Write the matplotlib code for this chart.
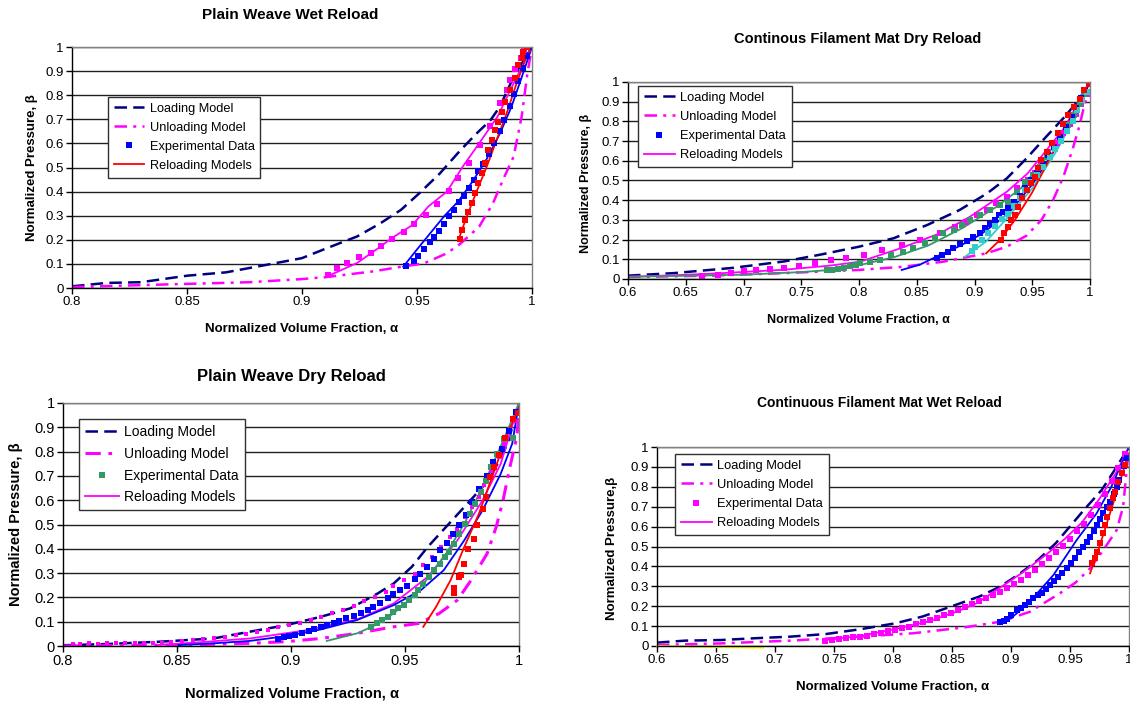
import matplotlib
matplotlib.use("Agg")
import matplotlib.pyplot as plt
from matplotlib.lines import Line2D
from matplotlib.ticker import MultipleLocator, FuncFormatter

plt.rcParams['font.family'] = ['Liberation Sans', 'DejaVu Sans']

W, H = 1130, 704

NAVY = '#000080'
MAG = '#FF00FF'
BLUE = '#0000FF'
RED = '#FF0000'
GREEN = '#339966'
CYAN = '#33CCCC'
YELLOW = '#FFFF00'

LABELS = ['Loading Model', 'Unloading Model', 'Experimental Data', 'Reloading Models']

# ---------------- Plain Weave Wet Reload ----------------
pww_load_x = [0.80, 0.815, 0.83, 0.85, 0.867, 0.889, 0.90, 0.911, 0.924, 0.934, 0.943, 0.951, 0.96, 0.969, 0.976, 0.982, 0.986, 0.992, 1.0]
pww_load_y = [0.007, 0.021, 0.024, 0.051, 0.065, 0.104, 0.124, 0.166, 0.214, 0.268, 0.324, 0.393, 0.476, 0.573, 0.642, 0.697, 0.752, 0.876, 1.0]
pww_unload_x = [0.80, 0.838, 0.877, 0.90, 0.911, 0.931, 0.943, 0.953, 0.963, 0.969, 0.977, 0.983, 0.988, 0.992, 0.9955, 0.998, 1.0]
pww_unload_y = [0.004, 0.014, 0.024, 0.037, 0.046, 0.069, 0.088, 0.102, 0.144, 0.185, 0.254, 0.351, 0.462, 0.545, 0.711, 0.891, 1.0]
pww_mag_x = [0.9114, 0.915, 0.9197, 0.9247, 0.9298, 0.9345, 0.9392, 0.9443, 0.9488, 0.954, 0.9586, 0.9638, 0.968, 0.9727, 0.9774, 0.9816, 0.9863, 0.9891, 0.9906, 0.9927, 0.995, 0.9964, 0.9973]
pww_mag_y = [0.055, 0.083, 0.104, 0.127, 0.145, 0.173, 0.203, 0.231, 0.267, 0.304, 0.35, 0.401, 0.456, 0.519, 0.593, 0.674, 0.768, 0.823, 0.864, 0.909, 0.954, 0.989, 1.0]
pww_blue_x = [0.9454, 0.9485, 0.9504, 0.9532, 0.9555, 0.9576, 0.9597, 0.9618, 0.9641, 0.966, 0.9683, 0.9704, 0.9727, 0.9747, 0.9766, 0.9789, 0.9813, 0.9836, 0.986, 0.9878, 0.9903, 0.9922, 0.9941, 0.9961, 0.9977, 0.9997]
pww_blue_y = [0.09, 0.113, 0.131, 0.162, 0.189, 0.212, 0.235, 0.267, 0.297, 0.322, 0.355, 0.38, 0.414, 0.45, 0.484, 0.515, 0.557, 0.602, 0.65, 0.698, 0.754, 0.806, 0.858, 0.913, 0.961, 1.0]
pww_red_x = [0.9687, 0.9694, 0.9709, 0.9723, 0.9738, 0.9752, 0.9767, 0.9781, 0.9796, 0.981, 0.9825, 0.9839, 0.9854, 0.9868, 0.9883, 0.9904, 0.9926, 0.9941, 0.9955, 0.9962, 0.9977]
pww_red_y = [0.202, 0.241, 0.282, 0.317, 0.351, 0.393, 0.434, 0.478, 0.517, 0.573, 0.614, 0.656, 0.69, 0.732, 0.773, 0.822, 0.87, 0.925, 0.953, 0.981, 0.999]
pww_rl_mag_x = [0.910, 0.924, 0.934, 0.939, 0.948, 0.955, 0.963, 0.970, 0.977, 0.985, 0.992, 1.0]
pww_rl_mag_y = [0.044, 0.104, 0.171, 0.207, 0.261, 0.339, 0.40, 0.505, 0.60, 0.711, 0.849, 1.0]
pww_rl_blue_x = [0.944, 0.950, 0.956, 0.962, 0.968, 0.974, 0.980, 0.986, 0.991, 0.995, 1.0]
pww_rl_blue_y = [0.088, 0.16, 0.23, 0.30, 0.36, 0.44, 0.53, 0.64, 0.75, 0.86, 1.0]
pww_rl_red_x = [0.968, 0.9716, 0.9759, 0.9803, 0.9846, 0.989, 0.9933, 0.997, 1.0]
pww_rl_red_y = [0.199, 0.296, 0.40, 0.503, 0.614, 0.725, 0.849, 0.946, 1.0]

# ---------------- Continous Filament Mat Dry Reload ----------------
cfd_load_x = [0.60, 0.64, 0.69, 0.735, 0.766, 0.80, 0.83, 0.859, 0.887, 0.911, 0.928, 0.945, 0.962, 0.978, 0.99, 1.0]
cfd_load_y = [0.017, 0.030, 0.056, 0.089, 0.123, 0.164, 0.207, 0.274, 0.350, 0.435, 0.511, 0.612, 0.722, 0.823, 0.907, 1.0]
cfd_unload_x = [0.60, 0.673, 0.735, 0.80, 0.838, 0.873, 0.91, 0.928, 0.945, 0.958, 0.968, 0.977, 0.985, 0.991, 0.995, 0.998]
cfd_unload_y = [0.010, 0.017, 0.030, 0.046, 0.062, 0.088, 0.130, 0.164, 0.22, 0.30, 0.40, 0.52, 0.66, 0.78, 0.88, 0.93]
cfd_mag_x = [0.664, 0.678, 0.689, 0.700, 0.711, 0.723, 0.735, 0.748, 0.762, 0.776, 0.789, 0.804, 0.820, 0.837, 0.853, 0.870, 0.883, 0.893, 0.902, 0.911, 0.919, 0.928, 0.937, 0.946, 0.952, 0.958, 0.964, 0.971, 0.977, 0.983, 0.988, 0.992, 0.997]
cfd_mag_y = [0.017, 0.022, 0.030, 0.039, 0.047, 0.051, 0.056, 0.067, 0.081, 0.094, 0.106, 0.122, 0.147, 0.173, 0.198, 0.232, 0.265, 0.291, 0.325, 0.350, 0.384, 0.418, 0.46, 0.503, 0.536, 0.587, 0.637, 0.688, 0.739, 0.789, 0.840, 0.890, 0.941]
cfd_green_x = [0.772, 0.777, 0.782, 0.787, 0.792, 0.797, 0.801, 0.8095, 0.818, 0.828, 0.838, 0.847, 0.857, 0.866, 0.873, 0.882, 0.889, 0.896, 0.905, 0.913, 0.922, 0.929, 0.937, 0.944, 0.951, 0.957, 0.963, 0.969, 0.975, 0.981, 0.986, 0.991, 0.995, 0.999]
cfd_green_y = [0.044, 0.048, 0.053, 0.058, 0.065, 0.072, 0.083, 0.088, 0.096, 0.122, 0.139, 0.156, 0.181, 0.207, 0.232, 0.249, 0.274, 0.299, 0.325, 0.350, 0.376, 0.393, 0.44, 0.49, 0.53, 0.57, 0.62, 0.67, 0.72, 0.78, 0.83, 0.89, 0.94, 0.99]
cfd_blue_x = [0.8673, 0.8716, 0.8773, 0.8816, 0.8874, 0.8932, 0.899, 0.9048, 0.9091, 0.9134, 0.9177, 0.9215, 0.9249, 0.9293, 0.934, 0.939, 0.944, 0.949, 0.954, 0.959, 0.964, 0.969, 0.974, 0.979, 0.984, 0.988, 0.992, 0.996]
cfd_blue_y = [0.105, 0.122, 0.139, 0.156, 0.178, 0.195, 0.215, 0.235, 0.257, 0.279, 0.299, 0.325, 0.342, 0.359, 0.39, 0.42, 0.46, 0.50, 0.54, 0.58, 0.63, 0.67, 0.72, 0.77, 0.82, 0.87, 0.92, 0.96]
cfd_cyan_x = [0.8975, 0.9004, 0.9062, 0.912, 0.9177, 0.9235, 0.9293, 0.934, 0.939, 0.944, 0.949, 0.954, 0.959, 0.965, 0.970, 0.975, 0.980, 0.985, 0.989, 0.993, 0.997]
cfd_cyan_y = [0.14, 0.164, 0.198, 0.232, 0.269, 0.303, 0.330, 0.37, 0.41, 0.45, 0.49, 0.53, 0.57, 0.62, 0.66, 0.70, 0.75, 0.80, 0.86, 0.91, 0.95]
cfd_red_x = [0.9226, 0.9257, 0.9288, 0.9319, 0.935, 0.938, 0.9412, 0.9458, 0.949, 0.952, 0.955, 0.958, 0.963, 0.9675, 0.972, 0.977, 0.981, 0.986, 0.991, 0.995, 0.999]
cfd_red_y = [0.199, 0.233, 0.266, 0.300, 0.325, 0.368, 0.41, 0.452, 0.486, 0.52, 0.562, 0.604, 0.646, 0.688, 0.739, 0.789, 0.831, 0.874, 0.916, 0.958, 0.992]
cfd_rl_mag_x = [0.60, 0.673, 0.735, 0.775, 0.801, 0.836, 0.870, 0.896, 0.928, 0.946, 0.967, 0.983, 1.0]
cfd_rl_mag_y = [0.010, 0.027, 0.047, 0.068, 0.088, 0.156, 0.232, 0.316, 0.443, 0.536, 0.688, 0.806, 1.0]
cfd_rl_green_x = [0.60, 0.65, 0.70, 0.75, 0.78, 0.80, 0.83, 0.86, 0.89, 0.92, 0.94, 0.96, 0.98, 1.0]
cfd_rl_green_y = [0.012, 0.016, 0.022, 0.035, 0.048, 0.070, 0.11, 0.17, 0.26, 0.37, 0.46, 0.60, 0.78, 1.0]
cfd_rl_blue_x = [0.837, 0.8528, 0.8701, 0.8874, 0.9048, 0.9221, 0.9293, 0.95, 0.97, 0.985, 1.0]
cfd_rl_blue_y = [0.046, 0.073, 0.122, 0.168, 0.224, 0.299, 0.333, 0.48, 0.66, 0.82, 1.0]
cfd_rl_cyan_x = [0.8918, 0.91, 0.928, 0.95, 0.97, 0.985, 1.0]
cfd_rl_cyan_y = [0.113, 0.19, 0.308, 0.46, 0.64, 0.80, 1.0]
cfd_rl_red_x = [0.910, 0.922, 0.935, 0.95, 0.965, 0.98, 1.0]
cfd_rl_red_y = [0.130, 0.198, 0.30, 0.44, 0.61, 0.79, 1.0]

# ---------------- Plain Weave Dry Reload ----------------
pwd_load_x = [0.80, 0.819, 0.843, 0.866, 0.882, 0.898, 0.913, 0.926, 0.938, 0.945, 0.953, 0.960, 0.968, 0.976, 0.984, 0.989, 0.995, 1.0]
pwd_load_y = [0.003, 0.008, 0.018, 0.031, 0.059, 0.086, 0.120, 0.155, 0.216, 0.257, 0.326, 0.408, 0.490, 0.572, 0.654, 0.722, 0.832, 1.0]
pwd_unload_x = [0.80, 0.85, 0.882, 0.898, 0.913, 0.929, 0.945, 0.956, 0.965, 0.973, 0.979, 0.986, 0.990, 0.993, 0.996, 0.999, 1.0]
pwd_unload_y = [0.0, 0.004, 0.011, 0.018, 0.031, 0.052, 0.079, 0.093, 0.134, 0.189, 0.271, 0.380, 0.490, 0.599, 0.736, 0.859, 0.95]
pwd_mag_x = [0.8042, 0.8074, 0.8113, 0.8152, 0.8192, 0.8231, 0.827, 0.8317, 0.8356, 0.8396, 0.8435, 0.8474, 0.8521, 0.8568, 0.8615, 0.8662, 0.871, 0.8757, 0.8804, 0.8851, 0.8898, 0.8945, 0.8992, 0.9039, 0.9086, 0.9133, 0.9181, 0.9228, 0.9275, 0.9322, 0.9369, 0.9416, 0.9447, 0.9495, 0.9542, 0.9581, 0.962, 0.9659, 0.9699, 0.973, 0.9761, 0.9793, 0.9824, 0.9848, 0.9879, 0.9911, 0.9934, 0.9958, 0.9981, 0.9989]
pwd_mag_y = [0.008, 0.008, 0.011, 0.008, 0.011, 0.011, 0.011, 0.011, 0.011, 0.014, 0.014, 0.016, 0.019, 0.025, 0.027, 0.033, 0.038, 0.044, 0.049, 0.057, 0.066, 0.077, 0.085, 0.096, 0.107, 0.120, 0.134, 0.150, 0.164, 0.186, 0.202, 0.223, 0.246, 0.271, 0.298, 0.332, 0.367, 0.408, 0.449, 0.483, 0.531, 0.572, 0.613, 0.661, 0.722, 0.777, 0.832, 0.880, 0.927, 0.962]
pwd_blue_x = [0.8945, 0.8969, 0.8992, 0.9016, 0.9047, 0.9078, 0.9102, 0.9133, 0.9157, 0.9188, 0.9212, 0.9243, 0.9275, 0.9306, 0.9338, 0.9361, 0.9392, 0.9424, 0.9447, 0.9479, 0.951, 0.9542, 0.9565, 0.9597, 0.9628, 0.9655, 0.9683, 0.9711, 0.9738, 0.9769, 0.9793, 0.9824, 0.9859, 0.9887, 0.9926, 0.9958, 0.9986]
pwd_blue_y = [0.027, 0.036, 0.041, 0.045, 0.055, 0.063, 0.068, 0.079, 0.086, 0.096, 0.104, 0.114, 0.123, 0.137, 0.148, 0.161, 0.178, 0.196, 0.216, 0.230, 0.246, 0.274, 0.298, 0.326, 0.360, 0.394, 0.424, 0.462, 0.497, 0.538, 0.592, 0.647, 0.698, 0.759, 0.811, 0.884, 0.962]
pwd_green_x = [0.9353, 0.9377, 0.94, 0.9424, 0.9447, 0.9471, 0.9494, 0.9518, 0.9542, 0.9557, 0.9581, 0.9604, 0.9628, 0.9652, 0.9675, 0.9691, 0.9714, 0.9738, 0.9761, 0.9785, 0.9809, 0.9832, 0.9856, 0.9879, 0.9903, 0.9934, 0.9973]
pwd_green_y = [0.079, 0.093, 0.107, 0.120, 0.141, 0.155, 0.168, 0.189, 0.209, 0.230, 0.257, 0.285, 0.312, 0.339, 0.367, 0.387, 0.421, 0.462, 0.503, 0.544, 0.586, 0.633, 0.681, 0.736, 0.791, 0.852, 0.856]
pwd_red_x = [0.9714, 0.9717, 0.9738, 0.9746, 0.9758, 0.9777, 0.9801, 0.9816, 0.984, 0.9856, 0.9874, 0.9891, 0.9911, 0.9937, 0.9973, 0.9997]
pwd_red_y = [0.219, 0.237, 0.285, 0.291, 0.339, 0.401, 0.442, 0.497, 0.565, 0.613, 0.695, 0.735, 0.784, 0.856, 0.934, 0.959]
pwd_rl_mag_x = [0.841, 0.858, 0.882, 0.9055, 0.929, 0.945, 0.960, 0.973, 0.984, 0.992, 1.0]
pwd_rl_mag_y = [0.004, 0.014, 0.031, 0.063, 0.109, 0.175, 0.285, 0.435, 0.599, 0.75, 1.0]
pwd_rl_blue_x = [0.8506, 0.866, 0.882, 0.898, 0.913, 0.929, 0.945, 0.957, 0.967, 0.976, 0.984, 0.992, 0.997, 1.0]
pwd_rl_blue_y = [0.004, 0.011, 0.021, 0.041, 0.068, 0.107, 0.168, 0.230, 0.312, 0.435, 0.558, 0.709, 0.832, 1.0]
pwd_rl_green_x = [0.9157, 0.929, 0.937, 0.945, 0.9526, 0.960, 0.968, 0.976, 0.984, 0.9918, 1.0]
pwd_rl_green_y = [0.021, 0.052, 0.086, 0.134, 0.196, 0.278, 0.380, 0.503, 0.654, 0.818, 1.0]
pwd_rl_red_x = [0.958, 0.9636, 0.970, 0.976, 0.9824, 0.9887, 0.995, 1.0]
pwd_rl_red_y = [0.079, 0.161, 0.271, 0.408, 0.544, 0.709, 0.873, 0.982]

# ---------------- Continuous Filament Mat Wet Reload ----------------
cfw_load_x = [0.60, 0.624, 0.654, 0.683, 0.713, 0.743, 0.772, 0.802, 0.825, 0.849, 0.873, 0.891, 0.908, 0.923, 0.938, 0.950, 0.962, 0.977, 0.988, 1.0]
cfw_load_y = [0.017, 0.027, 0.030, 0.039, 0.047, 0.060, 0.084, 0.114, 0.148, 0.198, 0.248, 0.299, 0.366, 0.433, 0.517, 0.601, 0.685, 0.785, 0.886, 1.0]
cfw_unload_x = [0.60, 0.654, 0.713, 0.772, 0.817, 0.861, 0.891, 0.916, 0.9415, 0.955, 0.967, 0.978, 0.9896, 0.995, 1.0]
cfw_unload_y = [0.005, 0.013, 0.027, 0.047, 0.064, 0.094, 0.122, 0.172, 0.265, 0.32, 0.390, 0.48, 0.583, 0.70, 1.0]
cfw_mag_x = [0.7426, 0.7485, 0.7544, 0.7604, 0.7663, 0.7722, 0.7781, 0.784, 0.7899, 0.7959, 0.8018, 0.8077, 0.8136, 0.8195, 0.8254, 0.8314, 0.8373, 0.8432, 0.8491, 0.855, 0.8609, 0.8669, 0.8728, 0.8787, 0.8846, 0.8905, 0.8964, 0.9024, 0.9083, 0.9142, 0.9201, 0.926, 0.932, 0.9379, 0.9438, 0.9497, 0.9556, 0.9615, 0.9675, 0.9734, 0.9793, 0.9852, 0.9911, 0.997]
cfw_mag_y = [0.027, 0.030, 0.034, 0.039, 0.044, 0.047, 0.052, 0.059, 0.067, 0.074, 0.081, 0.089, 0.097, 0.109, 0.119, 0.131, 0.143, 0.156, 0.168, 0.181, 0.198, 0.212, 0.226, 0.240, 0.256, 0.272, 0.290, 0.310, 0.330, 0.355, 0.382, 0.410, 0.440, 0.472, 0.505, 0.540, 0.577, 0.615, 0.660, 0.710, 0.765, 0.830, 0.895, 0.965]
cfw_blue_x = [0.891, 0.894, 0.897, 0.9, 0.9048, 0.9085, 0.9119, 0.9155, 0.919, 0.9225, 0.926, 0.9295, 0.933, 0.9365, 0.940, 0.9436, 0.9472, 0.9507, 0.9542, 0.958, 0.9613, 0.964, 0.967, 0.970, 0.9726, 0.975, 0.978, 0.981, 0.9839, 0.987, 0.9896, 0.9918, 0.9938, 0.996, 0.998]
cfw_blue_y = [0.122, 0.127, 0.135, 0.156, 0.181, 0.193, 0.206, 0.223, 0.240, 0.254, 0.268, 0.287, 0.307, 0.327, 0.348, 0.369, 0.390, 0.415, 0.441, 0.470, 0.499, 0.524, 0.549, 0.578, 0.608, 0.637, 0.667, 0.696, 0.725, 0.762, 0.80, 0.834, 0.868, 0.905, 0.943]
cfw_red_x = [0.9684, 0.9712, 0.9732, 0.9754, 0.9777, 0.9797, 0.9816, 0.9839, 0.9862, 0.9881, 0.9909, 0.9938, 0.9966]
cfw_red_y = [0.415, 0.441, 0.474, 0.516, 0.566, 0.608, 0.650, 0.692, 0.742, 0.775, 0.826, 0.868, 0.910]
cfw_rl_mag_x = [0.742, 0.772, 0.802, 0.831, 0.855, 0.871, 0.89, 0.91, 0.93, 0.945, 0.96, 0.975, 0.99, 1.0]
cfw_rl_mag_y = [0.030, 0.050, 0.085, 0.125, 0.175, 0.215, 0.29, 0.37, 0.46, 0.535, 0.62, 0.74, 0.88, 1.0]
cfw_rl_blue_x = [0.891, 0.90, 0.91, 0.92, 0.936, 0.9557, 0.9726, 0.985, 1.0]
cfw_rl_blue_y = [0.114, 0.14, 0.19, 0.25, 0.357, 0.533, 0.667, 0.80, 1.0]
cfw_rl_red_x = [0.967, 0.974, 0.9839, 0.992, 0.9994]
cfw_rl_red_y = [0.365, 0.482, 0.667, 0.818, 0.968]
cfw_yellow_x = [0.60, 0.63, 0.66, 0.69]
cfw_yellow_y = [0.0, -0.004, -0.007, -0.009]


fig = plt.figure(figsize=(W / 100, H / 100), dpi=100)


def px_axes(l, t, r, b):
    return fig.add_axes([l / W, 1 - b / H, (r - l) / W, (b - t) / H])


def fig_text(x, y, s, fs, **kw):
    fig.text(x / W, 1 - y / H, s, ha='center', va='center', fontsize=fs,
             fontweight='bold', **kw)


def setup(ax, xmin, fs):
    ax.set_xlim(xmin, 1)
    ax.set_ylim(0, 1)
    ax.xaxis.set_major_locator(MultipleLocator(0.05))
    ax.yaxis.set_major_locator(MultipleLocator(0.1))
    fmt = FuncFormatter(lambda v, p: f'{v:.2f}'.rstrip('0').rstrip('.'))
    ax.xaxis.set_major_formatter(fmt)
    ax.yaxis.set_major_formatter(fmt)
    ax.grid(axis='y', color='#202020', lw=1.0)
    ax.set_axisbelow(True)
    ax.tick_params(direction='out', length=4, width=1.0, labelsize=fs, pad=2)
    for s in ['left', 'bottom']:
        ax.spines[s].set_color('black')
        ax.spines[s].set_linewidth(1.0)
    for s in ['top', 'right']:
        ax.spines[s].set_color('#808080')
        ax.spines[s].set_linewidth(1.0)


def line(ax, x, y, c, lw=1.3, **kw):
    ax.plot(x, y, color=c, lw=lw, **kw)


def pts(ax, x, y, c, ms=4.5):
    ax.plot(x, y, ls='none', marker='s', ms=ms, color=c, mec=c, mew=0)


def models(ax, lx, ly, ux, uy, ulw=1.8):
    ax.plot(lx, ly, color=NAVY, lw=1.8, dashes=(5, 2.5))
    ax.plot(ux, uy, color=MAG, lw=ulw, dashes=(5, 2.5, 1.2, 2.5))


def legend(ax, x, y, fs, data_c, rl_c, ulw=1.8):
    handles = [Line2D([], [], color=NAVY, lw=1.8, dashes=(5, 2.5)),
               Line2D([], [], color=MAG, lw=ulw, dashes=(5, 2.5, 1.2, 2.5)),
               Line2D([], [], ls='none', marker='s', ms=4.5, color=data_c, mew=0),
               Line2D([], [], color=rl_c, lw=1.3)]
    leg = ax.legend(handles, LABELS, loc='upper left',
                    bbox_to_anchor=(x / W, 1 - y / H), bbox_transform=fig.transFigure,
                    borderaxespad=0, fontsize=fs, fancybox=False, framealpha=1,
                    handlelength=2.4, handletextpad=0.4, labelspacing=0.55,
                    borderpad=0.45)
    leg.get_frame().set_edgecolor('#303030')
    leg.get_frame().set_linewidth(1.0)


# Plain Weave Wet Reload
ax1 = px_axes(72, 47, 532, 288)
setup(ax1, 0.8, 9.5)
models(ax1, pww_load_x, pww_load_y, pww_unload_x, pww_unload_y)
line(ax1, pww_rl_mag_x, pww_rl_mag_y, MAG)
line(ax1, pww_rl_blue_x, pww_rl_blue_y, BLUE)
line(ax1, pww_rl_red_x, pww_rl_red_y, RED)
pts(ax1, pww_mag_x, pww_mag_y, MAG)
pts(ax1, pww_blue_x, pww_blue_y, BLUE)
pts(ax1, pww_red_x, pww_red_y, RED)
legend(ax1, 108, 97, 9.2, BLUE, RED)
fig_text(290, 15, 'Plain Weave Wet Reload', 11)
fig_text(302, 329, 'Normalized Volume Fraction, α', 9.5)
fig_text(32, 168, 'Normalized Pressure, β', 9.5, rotation=90)

# Continous Filament Mat Dry Reload
ax2 = px_axes(628, 82, 1090, 279)
setup(ax2, 0.6, 9.5)
models(ax2, cfd_load_x, cfd_load_y, cfd_unload_x, cfd_unload_y)
line(ax2, cfd_rl_mag_x, cfd_rl_mag_y, MAG)
line(ax2, cfd_rl_green_x, cfd_rl_green_y, GREEN)
line(ax2, cfd_rl_blue_x, cfd_rl_blue_y, BLUE)
line(ax2, cfd_rl_cyan_x, cfd_rl_cyan_y, CYAN)
line(ax2, cfd_rl_red_x, cfd_rl_red_y, RED)
pts(ax2, cfd_mag_x, cfd_mag_y, MAG)
pts(ax2, cfd_green_x, cfd_green_y, GREEN)
pts(ax2, cfd_blue_x, cfd_blue_y, BLUE)
pts(ax2, cfd_cyan_x, cfd_cyan_y, CYAN)
pts(ax2, cfd_red_x, cfd_red_y, RED)
legend(ax2, 638, 86, 9.3, BLUE, MAG)
fig_text(858, 39, 'Continous Filament Mat Dry Reload', 10.5)
fig_text(858, 320, 'Normalized Volume Fraction, α', 9)
fig_text(586, 183, 'Normalized Pressure, β', 9, rotation=90)

# Plain Weave Dry Reload
ax3 = px_axes(63, 403, 519, 646)
setup(ax3, 0.8, 10.5)
models(ax3, pwd_load_x, pwd_load_y, pwd_unload_x, pwd_unload_y, ulw=2.2)
line(ax3, pwd_rl_mag_x, pwd_rl_mag_y, MAG)
line(ax3, pwd_rl_blue_x, pwd_rl_blue_y, BLUE)
line(ax3, pwd_rl_green_x, pwd_rl_green_y, GREEN)
line(ax3, pwd_rl_red_x, pwd_rl_red_y, RED)
pts(ax3, pwd_mag_x, pwd_mag_y, MAG, ms=3.5)
pts(ax3, pwd_blue_x, pwd_blue_y, BLUE, ms=5)
pts(ax3, pwd_green_x, pwd_green_y, GREEN, ms=5)
pts(ax3, pwd_red_x, pwd_red_y, RED, ms=5)
legend(ax3, 79, 419, 10, GREEN, MAG, ulw=2.2)
fig_text(291, 376, 'Plain Weave Dry Reload', 12)
fig_text(292, 693, 'Normalized Volume Fraction, α', 10.5)
fig_text(16, 524, 'Normalized Pressure, β', 10.5, rotation=90)

# Continuous Filament Mat Wet Reload
ax4 = px_axes(657, 447, 1129, 646)
setup(ax4, 0.6, 9.5)
models(ax4, cfw_load_x, cfw_load_y, cfw_unload_x, cfw_unload_y)
ax4.plot(cfw_yellow_x, cfw_yellow_y, color=YELLOW, lw=1.3, clip_on=False)
line(ax4, cfw_rl_mag_x, cfw_rl_mag_y, MAG)
line(ax4, cfw_rl_blue_x, cfw_rl_blue_y, BLUE)
line(ax4, cfw_rl_red_x, cfw_rl_red_y, RED)
pts(ax4, cfw_mag_x, cfw_mag_y, MAG)
pts(ax4, cfw_blue_x, cfw_blue_y, BLUE)
pts(ax4, cfw_red_x, cfw_red_y, RED)
legend(ax4, 675, 454, 9.3, MAG, MAG)
fig_text(879, 403, 'Continuous Filament Mat Wet Reload', 10)
fig_text(893, 687, 'Normalized Volume Fraction, α', 9.5)
fig_text(612, 548, 'Normalized Pressure,β', 9.5, rotation=90)

fig.savefig('out.png', dpi=100)
